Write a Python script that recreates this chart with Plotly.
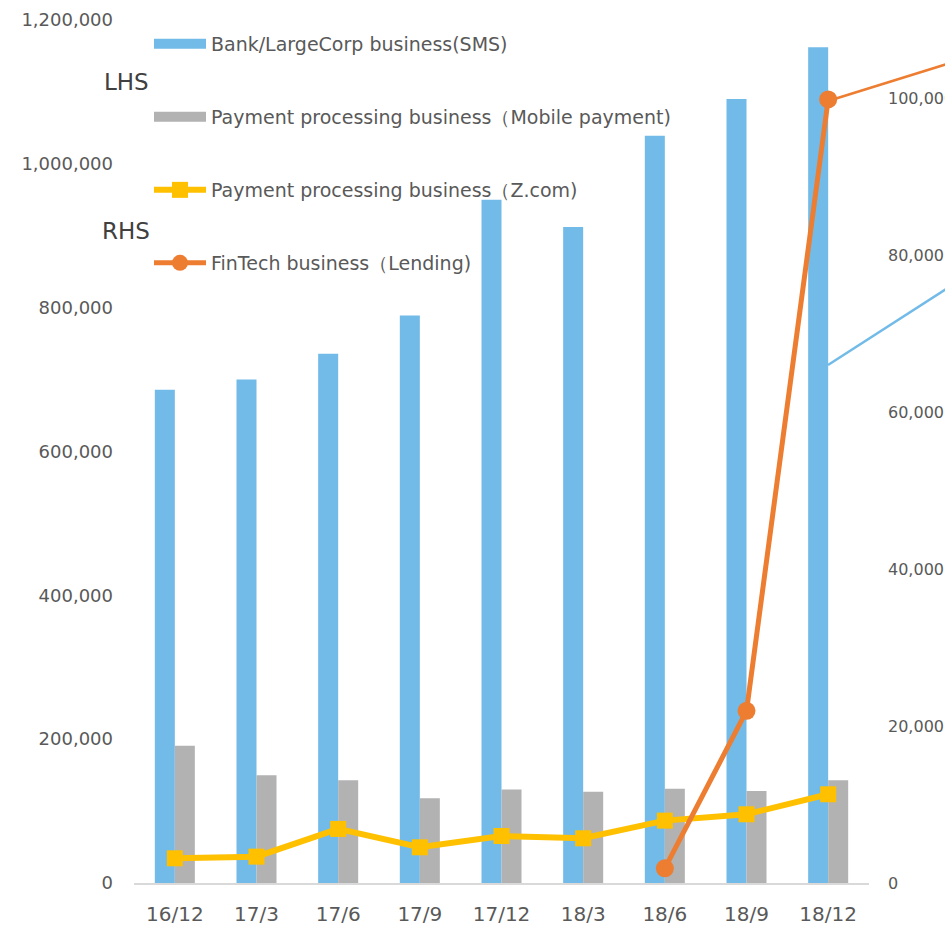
import plotly.graph_objects as go

categories = ["16/12", "17/3", "17/6", "17/9", "17/12", "18/3", "18/6", "18/9", "18/12"]
sms = [686000, 700000, 736000, 789000, 950000, 912000, 1039000, 1090000, 1162000]
mobile = [191000, 150000, 143000, 118000, 130000, 127000, 131000, 128000, 143000]
zcom = [3150, 3360, 6890, 4550, 5990, 5700, 7950, 8760, 11310]
lending = [None, None, None, None, None, None, 1870, 21940, 99870]

left_ticks = [0, 200000, 400000, 600000, 800000, 1000000, 1200000]
right_ticks = [0, 20000, 40000, 60000, 80000, 100000]

BLUE = "#72BBE8"
GRAY = "#B2B2B2"
YELLOW = "#FFC000"
ORANGE = "#ED7D31"
TXT = "#595959"
FONT = "DejaVu Sans"

W, H = 945, 926
L, R, T, B = 134, 76, 20, 43
pw, ph = W - L - R, H - T - B


def px(x):
    return (x - L) / pw


def py(y):
    return (H - B - y) / ph


fig = go.Figure()
fig.add_trace(go.Bar(x=categories, y=sms, name="Bank/LargeCorp business(SMS)",
                     marker=dict(color=BLUE, line=dict(width=0)), showlegend=False))
fig.add_trace(go.Bar(x=categories, y=mobile, name="Payment processing business（Mobile payment)",
                     marker=dict(color=GRAY, line=dict(width=0)), showlegend=False))
# legend keys for the bar series (wide rectangles as in the reference)
fig.add_trace(go.Scatter(x=[None], y=[None], mode="lines", name="Bank/LargeCorp business(SMS)",
                         line=dict(color=BLUE, width=12), legend="legend", hoverinfo="skip"))
fig.add_trace(go.Scatter(x=[None], y=[None], mode="lines", name="Payment processing business（Mobile payment)",
                         line=dict(color=GRAY, width=12), legend="legend2", hoverinfo="skip"))
fig.add_trace(go.Scatter(x=categories, y=zcom, yaxis="y2", mode="lines+markers",
                         name="Payment processing business（Z.com)",
                         line=dict(color=YELLOW, width=6),
                         marker=dict(symbol="square", size=16, color=YELLOW), legend="legend3"))
fig.add_trace(go.Scatter(x=categories, y=lending, yaxis="y2", mode="lines+markers",
                         name="FinTech business（Lending)",
                         line=dict(color=ORANGE, width=5),
                         marker=dict(symbol="circle", size=18, color=ORANGE), legend="legend4"))

legend_common = dict(xanchor="left", yanchor="middle", bgcolor="rgba(0,0,0,0)",
                     borderwidth=0, font=dict(family=FONT, size=19, color=TXT),
                     itemwidth=52, itemclick=False)
fig.update_layout(
    template="none",
    width=W, height=H,
    margin=dict(l=L, r=R, t=T, b=B, pad=0),
    paper_bgcolor="white", plot_bgcolor="white",
    barmode="group", bargap=0.51, bargroupgap=0,
    font=dict(family=FONT, color=TXT),
    xaxis=dict(type="category", range=[-0.5, len(categories) - 0.5], showgrid=False,
               showline=True, linecolor="#D9D9D9", linewidth=2,
               ticks="", tickfont=dict(size=20, color=TXT), ticklabelstandoff=12, automargin=False,
               zeroline=False),
    yaxis=dict(range=[0, 1200000], tickvals=left_ticks, tickformat=",", showgrid=False,
               zeroline=False, showline=False, ticks="", tickfont=dict(size=18, color=TXT),
               ticklabelstandoff=20, automargin=False),
    yaxis2=dict(range=[0, 110000], tickvals=right_ticks, tickformat=",", overlaying="y", side="right",
                showgrid=False, zeroline=False, showline=False, ticks="",
                tickfont=dict(size=16, color=TXT), ticklabelstandoff=18, automargin=False),
    showlegend=True,
    legend=dict(x=px(149), y=py(44), **legend_common),
    legend2=dict(x=px(149), y=py(117), **legend_common),
    legend3=dict(x=px(149), y=py(190), **legend_common),
    legend4=dict(x=px(149), y=py(263), **legend_common),
)

for label, yy in [("LHS", 82), ("RHS", 231)]:
    fig.add_annotation(text=label, xref="paper", yref="paper", x=px(126), y=py(yy),
                       xanchor="center", yanchor="middle", showarrow=False,
                       font=dict(family=FONT, size=23, color="#404040"))

# leader lines toward labels outside the visible area
fig.add_shape(type="line", xref="paper", yref="paper", x0=px(828), y0=py(101), x1=px(960), y1=py(60),
              line=dict(color=ORANGE, width=2.5), layer="below")
fig.add_shape(type="line", xref="paper", yref="paper", x0=px(828), y0=py(365), x1=px(960), y1=py(280),
              line=dict(color=BLUE, width=2.5), layer="above")

fig.write_html("out.html")
